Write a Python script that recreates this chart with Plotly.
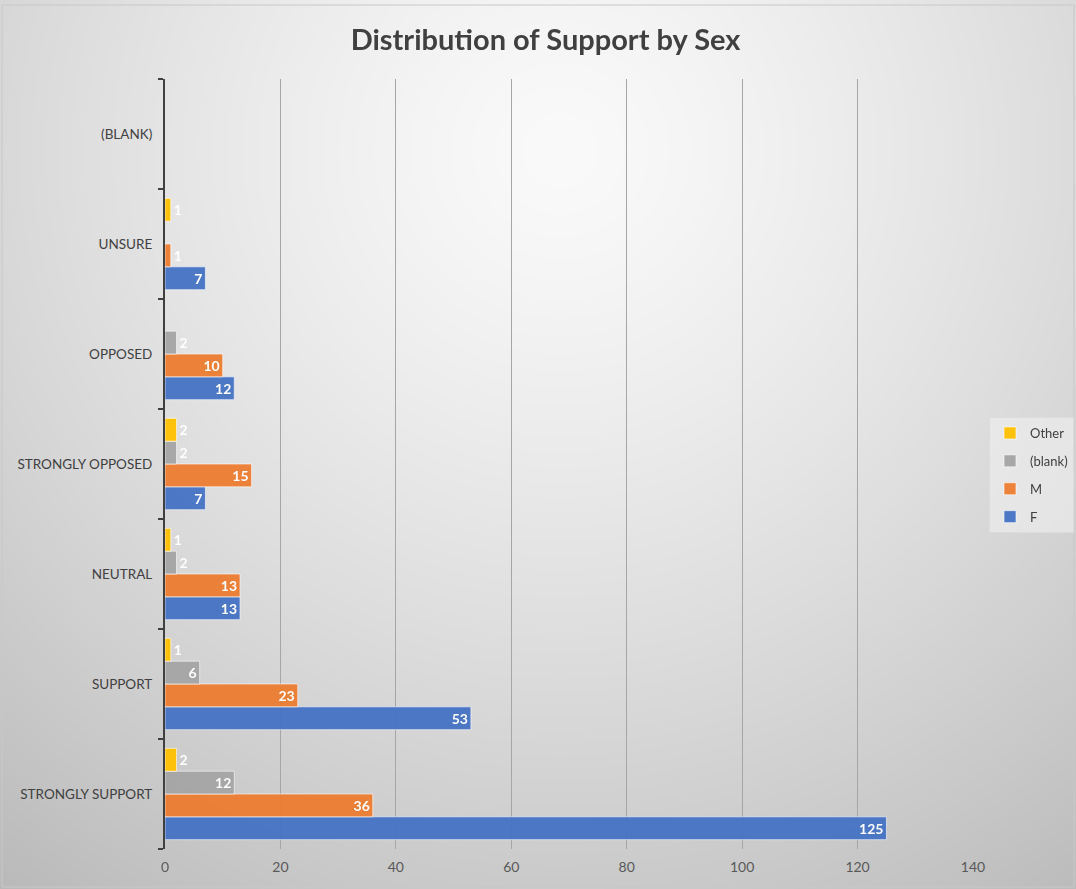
import base64, struct, zlib
import numpy as np
import plotly.graph_objects as go

# ---- data ----
categories = ["STRONGLY SUPPORT", "SUPPORT", "NEUTRAL", "STRONGLY OPPOSED",
              "OPPOSED", "UNSURE", "(BLANK)"]
f_values = [125, 53, 13, 7, 12, 7, None]
m_values = [36, 23, 13, 15, 10, 1, None]
blank_values = [12, 6, 2, 2, 2, None, None]
other_values = [2, 1, 1, 2, None, 1, None]
x_ticks = [0, 20, 40, 60, 80, 100, 120, 140]

series = [("F", f_values, "#4472C4"),
          ("M", m_values, "#ED7D31"),
          ("(blank)", blank_values, "#A5A5A5"),
          ("Other", other_values, "#FFC000")]

W, H = 1076, 889
L, R, T, B = 165, 103, 79, 40

# ---- background gradient image ----
def gradient_png(w, h):
    yy, xx = np.mgrid[0:h, 0:w].astype(float)
    d = np.sqrt((xx - 560) ** 2 + ((yy - 150) * 1.0) ** 2) / 900.0
    g = 250 - 62 * np.clip(d, 0, 1.2) ** 1.3
    g = np.clip(g, 0, 255).astype(np.uint8)
    raw = b"".join(b"\x00" + g[i].tobytes() for i in range(h))
    def chunk(t, data):
        c = struct.pack(">I", len(data)) + t + data
        return c + struct.pack(">I", zlib.crc32(t + data) & 0xffffffff)
    png = b"\x89PNG\r\n\x1a\n" + chunk(b"IHDR", struct.pack(">IIBBBBB", w, h, 8, 0, 0, 0, 0))
    png += chunk(b"IDAT", zlib.compress(raw, 9)) + chunk(b"IEND", b"")
    return "data:image/png;base64," + base64.b64encode(png).decode()

fig = go.Figure()
n = len(series)
for i, (name, vals, color) in enumerate(series):
    fig.add_trace(go.Bar(
        y=categories, x=vals, name=name, orientation="h",
        marker=dict(color=color, line=dict(color="rgba(255,255,255,0.6)", width=1)),
        opacity=0.95,
        text=[str(v) if v is not None else "" for v in vals],
        textposition="auto", insidetextanchor="end", constraintext="none", textangle=0,
        insidetextfont=dict(color="white", size=14, family="Lato", weight="bold"),
        outsidetextfont=dict(color="white", size=14, family="Lato", weight="bold"),
        cliponaxis=False, legendgroup=name, legendrank=n - i,
    ))

pw = W - L - R
ph = H - T - B
fig.add_layout_image(dict(
    source=gradient_png(W, H), xref="paper", yref="paper",
    x=-L / pw, y=1 + T / ph, sizex=W / pw, sizey=H / ph,
    sizing="stretch", layer="below", xanchor="left", yanchor="top"))

fig.add_shape(type="rect", xref="paper", yref="paper",
              x0=(2 - L) / pw, x1=(W - 2 - L) / pw,
              y0=1 + (T - 5) / ph, y1=1 - (H - 2 - T) / ph,
              line=dict(color="#c8c8c8", width=1), layer="below")

fig.update_layout(
    width=W, height=H,
    margin=dict(l=L, r=R, t=T, b=B, autoexpand=False),
    paper_bgcolor="#efefef", plot_bgcolor="rgba(0,0,0,0)",
    barmode="group", bargap=0.17, bargroupgap=0,
    title=dict(text="<b>Distribution of Support by Sex</b>", x=0.507, xref="container",
               xanchor="center", y=1 - 40 / H, yref="container", yanchor="middle",
               font=dict(size=29, color="#404040", family="Lato")),
    font=dict(family="Lato", color="#404040"),
    legend=dict(traceorder="grouped", xref="container", yref="container",
                x=1074 / W, xanchor="right", y=1 - 475 / H, yanchor="middle",
                itemwidth=30,
                bgcolor="rgba(240,240,240,0.6)", bordercolor="#dcdcdc", borderwidth=1,
                font=dict(size=13, color="#404040"), tracegroupgap=8),
    xaxis=dict(range=[0, 140], tickvals=x_ticks, showgrid=True, gridcolor="#a6a6a6",
               gridwidth=1, zeroline=False, showline=False,
               tickfont=dict(size=14, color="#595959"), ticks="", ticklabelstandoff=8),
    yaxis=dict(type="category", categoryorder="array", categoryarray=categories,
               showline=True, linecolor="#404040", linewidth=2, ticks="outside",
               tickson="boundaries", ticklen=5, tickwidth=2, tickcolor="#404040",
               showgrid=False, tickfont=dict(size=13.5, color="#404040"),
               ticklabelstandoff=8),
)

fig.write_html("out.html", post_script="document.body.style.margin='0';",
               config={"displayModeBar": False})
